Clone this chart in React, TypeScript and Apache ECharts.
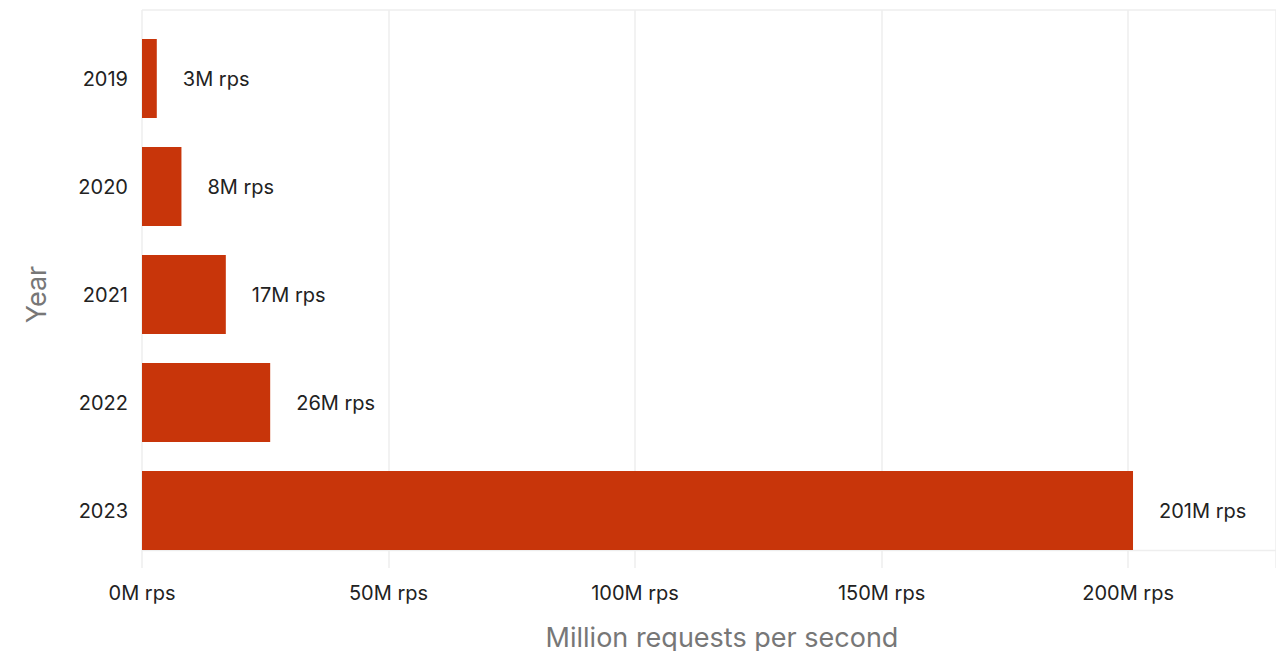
import React, { useEffect, useRef } from "react";
import * as echarts from "echarts";

const years = ["2019", "2020", "2021", "2022", "2023"];
const rps = [3, 8, 17, 26, 201];
const xTicks = [0, 50, 100, 150, 200];
const xMax = 230;

const FONT = "Inter, 'Noto Sans', sans-serif";
const BAR = "#c8350a";
const GRID = "#eeeeee";

export default function App() {
  const ref = useRef<HTMLDivElement>(null);
  useEffect(() => {
    if (!ref.current) return;
    const chart = echarts.init(ref.current, null, { renderer: "svg" });
    chart.setOption({
      animation: false,
      textStyle: { fontFamily: FONT },
      grid: [
        { left: 142, right: 0, top: 24.5, height: 540, outerBoundsMode: "none", containLabel: false },
        { left: 142, right: 0, top: 10, bottom: 83, outerBoundsMode: "none", containLabel: false },
      ],
      xAxis: [
        {
          gridIndex: 0,
          type: "value",
          min: 0,
          max: xMax,
          axisLabel: { show: false },
          axisLine: { show: false },
          axisTick: { show: false },
          splitLine: { show: false },
        },
        {
          gridIndex: 1,
          type: "value",
          min: 0,
          max: xMax,
          interval: 50,
          axisLine: { show: false },
          axisTick: { show: false },
          splitLine: { show: true, lineStyle: { color: GRID, width: 1.5 } },
          axisLabel: {
            fontSize: 20,
            color: "#222",
            margin: 15,
            fontFamily: FONT,
            showMaxLabel: false,
            formatter: (v: number) => (xTicks.includes(v) ? `${v}M rps` : ""),
          },
          name: "Million requests per second",
          nameLocation: "middle",
          nameGap: 56,
          nameMoveOverlap: false,
          nameTextStyle: { fontSize: 27, color: "#777", fontFamily: FONT, padding: [0, 0, 0, 26] },
        },
      ],
      yAxis: [
        {
          gridIndex: 0,
          type: "category",
          inverse: true,
          data: years,
          axisLine: { show: false },
          axisTick: { show: false },
          splitLine: { show: false },
          axisLabel: { fontSize: 20, color: "#222", margin: 14, fontFamily: FONT },
          name: "Year",
          nameLocation: "middle",
          nameGap: 92,
          nameTextStyle: { fontSize: 27, color: "#777", fontFamily: FONT },
        },
        {
          gridIndex: 1,
          type: "value",
          show: false,
          splitLine: { show: false },
        },
      ],
      series: [
        {
          type: "bar",
          xAxisIndex: 0,
          yAxisIndex: 0,
          data: rps,
          barWidth: 79,
          itemStyle: { color: BAR },
          label: {
            show: true,
            position: "right",
            distance: 26,
            formatter: (p: any) => `${p.value}M rps`,
            fontSize: 20,
            color: "#222",
            fontFamily: FONT,
          },
        },
      ],
      graphic: [
        {
          type: "line",
          shape: { x1: 142, y1: 10, x2: 1276, y2: 10 },
          style: { stroke: GRID, lineWidth: 1.5 },
          z: -1,
        },
        {
          type: "line",
          shape: { x1: 142, y1: 550.5, x2: 1276, y2: 550.5 },
          style: { stroke: GRID, lineWidth: 1.5 },
          z: -1,
        },
      ],
    });
    return () => chart.dispose();
  }, []);
  return (
    <div
      ref={ref}
      style={{ position: "fixed", left: 0, top: 0, width: 1276, height: 651, background: "#fff" }}
    />
  );
}
